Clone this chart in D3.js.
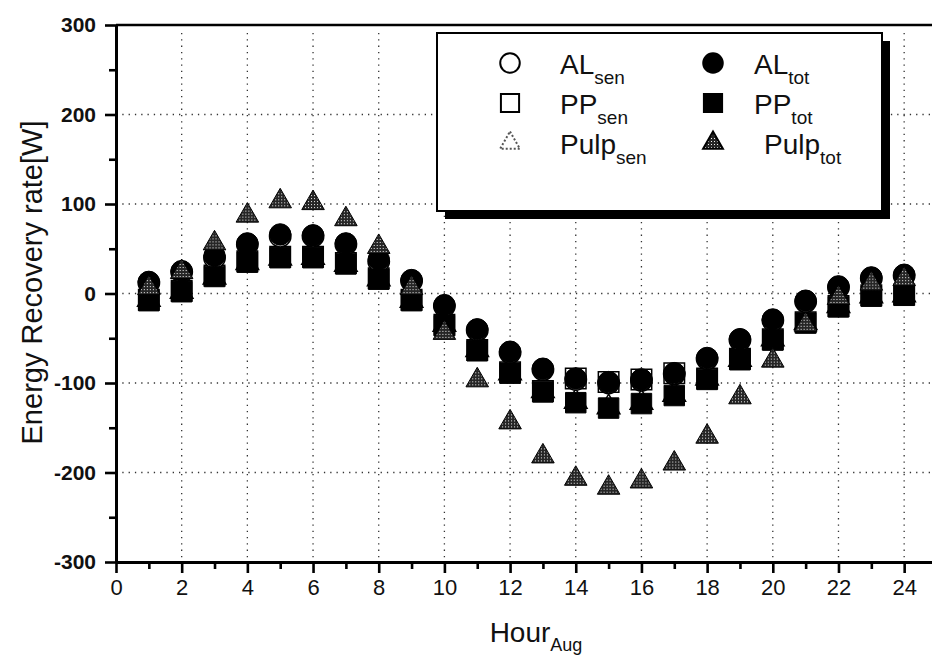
<!DOCTYPE html>
<html>
<head>
<meta charset="utf-8">
<script src="https://cdn.jsdelivr.net/npm/d3@7/dist/d3.min.js"></script>
<style>
  body { margin: 0; background: #fff; }
  svg { display: block; }
  text { font-family: "Liberation Sans", Arial, sans-serif; fill: #111; }
</style>
</head>
<body>
<div id="chart"></div>
<script>
// hour of day (August)
var hours  = [1, 2, 3, 4, 5, 6, 7, 8, 9, 10, 11, 12, 13, 14, 15, 16, 17, 18, 19, 20, 21, 22, 23, 24];
// energy recovery rate [W] (open "sen" markers sit mostly hidden under the filled ones)
var alTot   = [13, 25, 42, 56, 66, 65, 56, 38, 15, -13, -40, -65, -84, -95, -99, -96, -89, -72, -51, -29, -8, 8, 18, 21];
var ppTot   = [-8, 2, 19, 35, 40, 40, 33, 16, -8, -36, -64, -89, -110, -122, -128, -123, -114, -96, -74, -52, -33, -15, -3, -2];
var pulpTot = [6, 24, 56, 87, 103, 101, 83, 52, 6, -44, -97, -144, -182, -207, -217, -210, -190, -160, -116, -75, -35, -5, 11, 16];
var alSen   = [12, 24, 40, 55, 64, 64, 55, 36, 14, -14, -41, -66, -85, -96, -100, -97, -90, -73, -52, -30, -9, 7, 17, 20];
var ppSen   = [-7, 3, 20, 36, 41, 41, 34, 17, -7, -35, -63, -88, -109, -95, -99, -96, -89, -95, -73, -51, -32, -14, -2, -1];
var pulpSen = [-7, 2, 18, 34, 39, 40, 32, 16, -8, -35, -63, -89, -109, -121, -127, -122, -113, -95, -74, -51, -33, -14, -3, -2];

var yMajor = [-300, -200, -100, 0, 100, 200, 300];
var yMinor = [-250, -150, -50, 50, 150, 250];
var xMajor = [0, 2, 4, 6, 8, 10, 12, 14, 16, 18, 20, 22, 24];
var xMinor = [1, 3, 5, 7, 9, 11, 13, 15, 17, 19, 21, 23];
var yGrid  = [-200, -100, 0, 100, 200];
var xGrid  = [2, 4, 6, 8, 10, 12, 14, 16, 18, 20, 22, 24];

var legendItems = [
    {name: "AL",   sub: "sen", shape: "circle",   filled: false, col: 0, row: 0},
    {name: "PP",   sub: "sen", shape: "square",   filled: false, col: 0, row: 1},
    {name: "Pulp", sub: "sen", shape: "triangle", filled: false, col: 0, row: 2},
    {name: "AL",   sub: "tot", shape: "circle",   filled: true,  col: 1, row: 0},
    {name: "PP",   sub: "tot", shape: "square",   filled: true,  col: 1, row: 1},
    {name: "Pulp", sub: "tot", shape: "triangle", filled: true,  col: 1, row: 2}
];

var width = 932, height = 658;
var x = d3.scaleLinear().domain([0, 25]).range([116, 937]);
var y = d3.scaleLinear().domain([-300, 300]).range([562, 25]);

var svg = d3.select("#chart").append("svg")
    .attr("width", width)
    .attr("height", height);

// stippled fill for the pulp triangles
var pat = svg.append("defs").append("pattern")
    .attr("id", "stipple")
    .attr("width", 3).attr("height", 3)
    .attr("patternUnits", "userSpaceOnUse");
pat.append("rect").attr("width", 3).attr("height", 3).attr("fill", "#262626");
pat.append("rect").attr("x", 1).attr("y", 1).attr("width", 1).attr("height", 1).attr("fill", "#f0f0f0");

var symbols = {
    circle: d3.symbol().type(d3.symbolCircle).size(360),
    square: d3.symbol().type(d3.symbolSquare).size(420),
    triangle: d3.symbol().type(d3.symbolTriangle).size(220)
};

// dotted grid
svg.append("g").selectAll("line")
    .data(xGrid)
    .enter().append("line")
    .attr("x1", d => x(d)).attr("x2", d => x(d))
    .attr("y1", y(300) + 8).attr("y2", y(-300))
    .attr("stroke", "#333").attr("stroke-width", 1.3)
    .attr("stroke-dasharray", "1.3,5");

svg.append("g").selectAll("line")
    .data(yGrid)
    .enter().append("line")
    .attr("x1", x(0)).attr("x2", width)
    .attr("y1", d => y(d)).attr("y2", d => y(d))
    .attr("stroke", "#333").attr("stroke-width", 1.3)
    .attr("stroke-dasharray", "1.3,5");

// axes
var axisLeftMajor = svg.append("g")
    .attr("transform", "translate(" + x(0) + ",0)")
    .call(d3.axisLeft(y).tickValues(yMajor).tickSize(11).tickPadding(9).tickSizeOuter(0)
        .tickFormat(d => String(d)));
var axisLeftMinor = svg.append("g")
    .attr("transform", "translate(" + x(0) + ",0)")
    .call(d3.axisLeft(y).tickValues(yMinor).tickSize(7).tickFormat("").tickSizeOuter(0));
var axisBottomMajor = svg.append("g")
    .attr("transform", "translate(0," + y(-300) + ")")
    .call(d3.axisBottom(x).tickValues(xMajor).tickSize(11).tickPadding(6).tickSizeOuter(0));
var axisBottomMinor = svg.append("g")
    .attr("transform", "translate(0," + y(-300) + ")")
    .call(d3.axisBottom(x).tickValues(xMinor).tickSize(7).tickFormat("").tickSizeOuter(0));

svg.selectAll(".domain").attr("stroke", "#000").attr("stroke-width", 3);
svg.selectAll(".tick line").attr("stroke", "#000").attr("stroke-width", 2.6);
axisLeftMajor.selectAll("text")
    .style("font-size", "21px").style("font-weight", "bold")
    .attr("fill", "#1a1a1a");
axisBottomMajor.selectAll("text")
    .style("font-size", "22px")
    .attr("fill", "#1a1a1a");

// top frame line
svg.append("line")
    .attr("x1", x(0)).attr("x2", width)
    .attr("y1", y(300)).attr("y2", y(300))
    .attr("stroke", "#000").attr("stroke-width", 2.5);

// data markers: open (sensible) first, filled (total) on top
function drawSeries(values, shape, filled) {
    svg.append("g").selectAll("path")
        .data(values)
        .enter().append("path")
        .attr("transform", (d, i) => "translate(" + x(hours[i]) + "," + y(d) + ")")
        .attr("d", symbols[shape])
        .attr("fill", filled ? (shape == "triangle" ? "url(#stipple)" : "#000") : "#fff")
        .attr("stroke", "#000")
        .attr("stroke-width", filled ? 1 : 1.5);
}
drawSeries(pulpSen, "triangle", false);
drawSeries(ppSen, "square", false);
drawSeries(alSen, "circle", false);
drawSeries(alTot, "circle", true);
drawSeries(ppTot, "square", true);
drawSeries(pulpTot, "triangle", true);

// legend
var lg = svg.append("g");
lg.append("rect")
    .attr("x", 445).attr("y", 41).attr("width", 445).attr("height", 178)
    .attr("fill", "#000");
lg.append("rect")
    .attr("x", 437).attr("y", 33).attr("width", 445).attr("height", 178)
    .attr("fill", "#fff").attr("stroke", "#000").attr("stroke-width", 2);

var colMark = [510, 713], colText = [560, 754];
var rowY = [63, 103, 143];

var items = lg.selectAll(".item")
    .data(legendItems)
    .enter().append("g")
    .attr("class", "item");

items.append("path")
    .attr("transform", d => "translate(" + colMark[d.col] + "," + rowY[d.row] + ")")
    .attr("d", d => d3.symbol().type(d.shape == "triangle" ? d3.symbolTriangle :
        (d.shape == "circle" ? d3.symbolCircle : d3.symbolSquare))
        .size(d.shape == "triangle" ? 170 : (d.shape == "circle" ? 300 : 330))())
    .attr("fill", d => d.filled ? (d.shape == "triangle" ? "url(#stipple)" : "#000") : "none")
    .attr("stroke", d => d.filled ? "#000" : (d.shape == "triangle" ? "#555" : "#000"))
    .attr("stroke-width", 2)
    .attr("stroke-dasharray", d => (!d.filled && d.shape == "triangle") ? "2,2" : null);

var labels = items.append("text")
    .attr("x", d => colText[d.col] + (d.shape == "triangle" && d.filled ? 10 : 0))
    .attr("y", d => rowY[d.row] + 11)
    .style("font-size", "28px");
labels.append("tspan").text(d => d.name);
labels.append("tspan")
    .attr("dy", 10)
    .style("font-size", "19px")
    .text(d => d.sub);

// axis titles
svg.append("text")
    .attr("transform", "translate(42," + (y(0) - 11) + ") rotate(-90)")
    .style("text-anchor", "middle")
    .style("font-size", "29px")
    .text("Energy Recovery rate[W]");

var xt = svg.append("text")
    .attr("x", 536)
    .attr("y", 642)
    .style("text-anchor", "middle")
    .style("font-size", "28px");
xt.append("tspan").text("Hour");
xt.append("tspan").attr("dy", 9).style("font-size", "18px").text("Aug");
</script>
</body>
</html>
